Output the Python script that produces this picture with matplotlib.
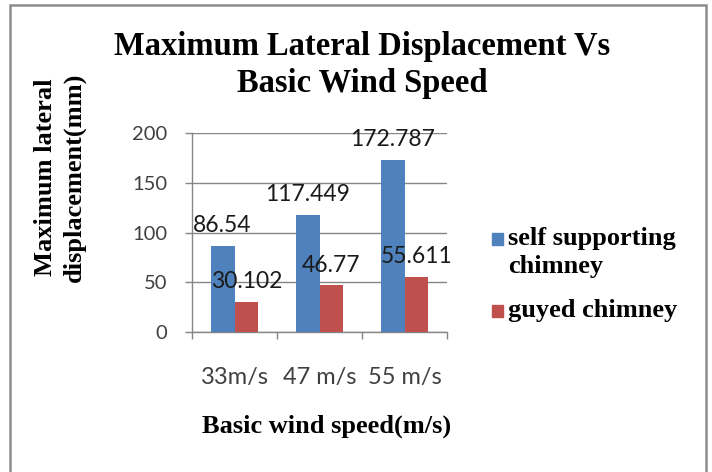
import numpy as np
import matplotlib.pyplot as plt
from matplotlib.patches import Rectangle

# data
speeds = ['33m/s', '47 m/s', '55 m/s']
self_supporting = [86.54, 117.449, 172.787]
guyed = [30.102, 46.77, 55.611]
series_names = ['self supporting\nchimney', 'guyed chimney']
y_ticks = [0, 50, 100, 150, 200]

BLUE = '#4F81BD'
RED = '#C0504D'
GREY = '#868686'
SERIF = 'Liberation Serif'
SANS = 'Lato'
W, H = 712, 472

fig = plt.figure(figsize=(W / 100, H / 100), dpi=100)
ax = fig.add_axes([192 / W, 1 - 332 / H, 255 / W, 199 / H])

x = np.arange(len(speeds))
w = 0.28
b1 = ax.bar(x - w / 2, self_supporting, w, color=BLUE, zorder=3)
b2 = ax.bar(x + w / 2, guyed, w, color=RED, zorder=3)

for bars in (b1, b2):
    ax.bar_label(bars, labels=[f'{v:g}' for v in bars.datavalues], padding=7,
                 fontsize=16.5, family=SANS, color='#1a1a1a', zorder=4)

ax.set_xlim(-0.5, len(speeds) - 0.5)
ax.set_ylim(0, 200)
ax.set_yticks(y_ticks)
ax.set_xticks(x)
ax.set_xticklabels(speeds)
ax.set_xticks(np.arange(len(speeds) + 1) - 0.5, minor=True)

ax.grid(axis='y', color=GREY, lw=1, zorder=0)
for s in ('top', 'right'):
    ax.spines[s].set_visible(False)
for s in ('left', 'bottom'):
    ax.spines[s].set_color(GREY)
    ax.spines[s].set_linewidth(1)

ax.tick_params(axis='x', which='major', length=0, pad=25, labelsize=17, labelcolor='#404040')
ax.tick_params(axis='x', which='minor', length=5, width=1, color=GREY)
ax.tick_params(axis='y', length=5, width=1, color=GREY, pad=13, labelsize=14.5, labelcolor='#404040')
for lab in ax.get_xticklabels() + ax.get_yticklabels():
    lab.set_family(SANS)

fig.text(362 / W, 1 - 65 / H, 'Maximum Lateral Displacement Vs\nBasic Wind Speed',
         ha='center', va='center', fontsize=23.5, family=SERIF, weight='bold', linespacing=1.25)
fig.text(327 / W, 1 - 426 / H, 'Basic wind speed(m/s)',
         ha='center', va='center', fontsize=19, family=SERIF, weight='bold')
fig.text(60 / W, 1 - 177 / H, 'Maximum lateral\ndisplacement(mm)', rotation=90,
         ha='center', va='center', fontsize=19, family=SERIF, weight='bold', linespacing=1.3)

# legend: square + label, square sits on the first text line
legend_rows = [(series_names[0], BLUE, 245), (series_names[1], RED, 317)]
for name, col, base in legend_rows:
    fig.patches.append(Rectangle((492 / W, 1 - base / H), 11 / W, 12 / H,
                                 transform=fig.transFigure, color=col))
    # va='baseline' pins the last line, so push down by the extra lines
    last = base + 28 * name.count('\n')
    fig.text(508 / W, 1 - last / H, name, ha='left', va='baseline', fontsize=19,
             family=SERIF, weight='bold', linespacing=1.26)

# outer chart border (bottom edge runs off the image)
fig.patches.append(Rectangle((10 / W, -0.05), 696 / W, 1.05 - 5 / H,
                             transform=fig.transFigure, fill=False,
                             edgecolor='#8c8c8c', lw=1.8))

fig.savefig('out.png', dpi=100)
